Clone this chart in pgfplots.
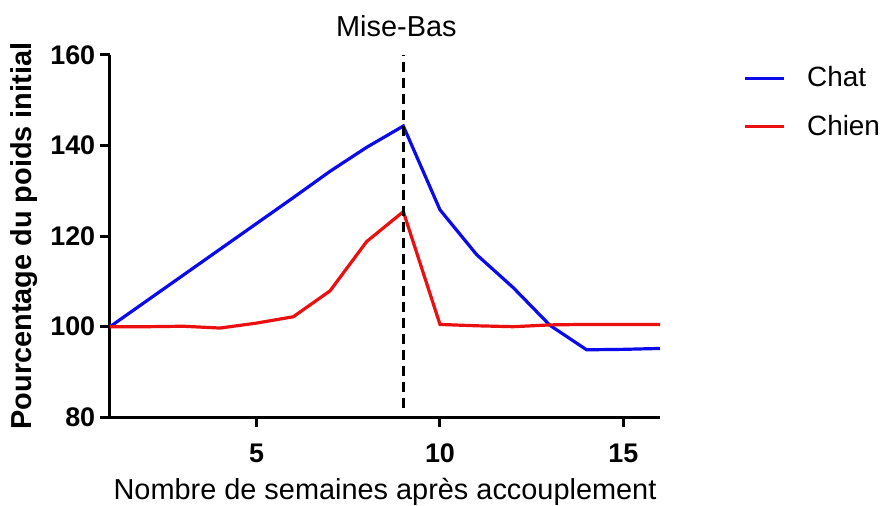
\documentclass[border=0pt]{standalone}
\usepackage{fontspec}
\setmainfont{Liberation Sans}
\usepackage{pgfplots}
\pgfplotsset{compat=1.18}
\definecolor{cblue}{RGB}{10,10,235}
\definecolor{cred}{RGB}{235,15,15}
\begin{document}
\begin{tikzpicture}
\begin{axis}[
  scale only axis,
  width=275bp, height=181.2bp,
  xmin=1, xmax=16, ymin=80, ymax=160,
  axis x line=bottom, axis y line=left,
  axis line style={-, line width=1.5bp, black},
  xtick={5,10,15}, ytick={80,100,120,140,160},
  tick align=outside,
  major tick length=5bp,
  tick style={line width=1.5bp, black},
  /pgf/number format/assume math mode=true,
  ticklabel style={font=\bfseries\fontsize{13.5}{15}\selectfont},
  xticklabel style={anchor=north, inner sep=0pt, yshift=-8bp},
  yticklabel style={anchor=east, inner sep=0pt, xshift=-2.2bp},
  xlabel={Nombre de semaines après accouplement},
  xlabel style={font=\fontsize{14.5}{17}\selectfont, at={(axis description cs:0.5,0)}, anchor=base, inner sep=0pt, yshift=-41bp},
  ylabel={Pourcentage du poids initial},
  ylabel style={font=\bfseries\fontsize{14.5}{17}\selectfont, at={(axis description cs:0,0.5)}, anchor=center, inner sep=0pt, yshift=43bp},
  clip=false,
  legend style={at={(axis description cs:1.1515,0.869)}, anchor=west, draw=none, fill=none, inner sep=0pt,
     font=\fontsize{14}{16}\selectfont, row sep=8.5bp,
     /tikz/every odd column/.append style={column sep=9bp}},
  legend cell align=left,
  legend image code/.code={\draw[#1, line width=1.5bp] (0bp,0bp) -- (19.2bp,0bp);},
]
\addplot[cblue, line width=1.6bp] coordinates {
(1,100) (2,105.7) (3,111.4) (4,117.1) (5,122.8) (6,128.5) (7,134.3) (8,139.6)
(9,144.3) (10,125.8) (11,115.9) (12,108.6) (13,100.3) (14,94.9) (15,95.0) (16,95.2)};
\addlegendentry{Chat}
\addplot[cred, line width=1.6bp] coordinates {
(1,100) (2,100) (3,100.1) (4,99.7) (5,100.8) (6,102.2) (7,107.9) (8,118.8)
(9,125.4) (10,100.5) (11,100.2) (12,100.0) (13,100.4) (14,100.5) (15,100.5) (16,100.5)};
\addlegendentry{Chien}
\addplot[black, line width=1.5bp, dash pattern=on 5bp off 3bp, forget plot] coordinates {(9,82) (9,160)};
\node[anchor=base, inner sep=0pt, font=\fontsize{14.5}{17}\selectfont] at ([yshift=9.1bp]axis cs:8.81,160) {Mise-Bas};
\coordinate (O) at (rel axis cs:0,0);
\end{axis}
\pgfresetboundingbox
\path[use as bounding box] ([shift={(-55bp,-44.35bp)}]O) rectangle ([shift={(387.5bp,208.65bp)}]O);
\end{tikzpicture}
\end{document}
